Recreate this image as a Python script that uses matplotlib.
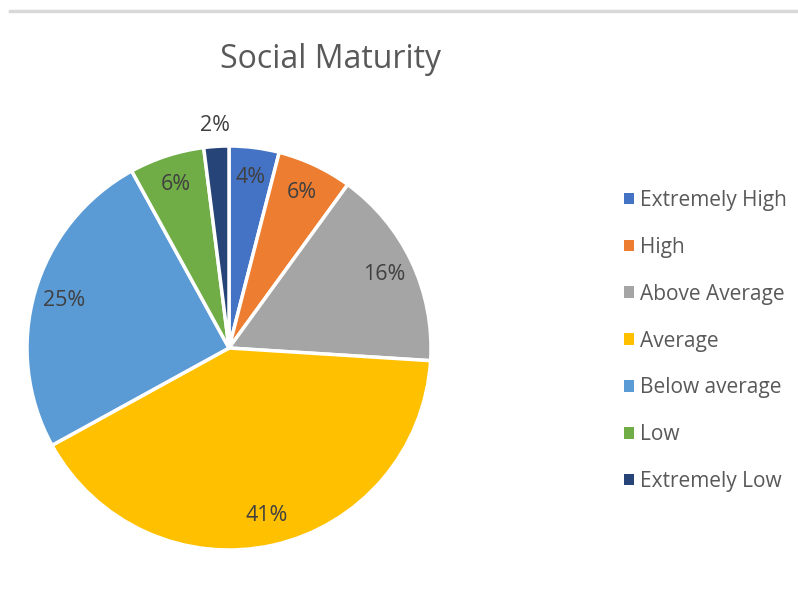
import matplotlib.pyplot as plt
from matplotlib.lines import Line2D

plt.rcParams['font.family'] = ['Open Sans', 'DejaVu Sans']

categories = ['Extremely High', 'High', 'Above Average', 'Average',
              'Below average', 'Low', 'Extremely Low']
values = [4, 6, 16, 41, 25, 6, 2]
colors = ['#4472C4', '#ED7D31', '#A5A5A5', '#FFC000', '#5B9BD5', '#70AD47', '#264478']

fig = plt.figure(figsize=(7.98, 6.04), dpi=100)

# thin frame line along the top
fig.add_artist(Line2D([10 / 798, 1.0], [1 - 11 / 604, 1 - 11 / 604],
                      color='#d9d9d9', lw=2.5))

ax = fig.add_axes([27 / 798, 54 / 604, 404 / 798, 404 / 604])
wedges, texts, autotexts = ax.pie(
    values, colors=colors, startangle=90, counterclock=False,
    autopct='%d%%', pctdistance=0.85,
    wedgeprops=dict(edgecolor='white', linewidth=2.5),
    textprops=dict(color='#404040', fontsize=15.5))
ax.set_xlim(-1, 1)
ax.set_ylim(-1, 1)
ax.set_aspect('equal')

# the tiny slice gets its label outside the pie
x, y = autotexts[-1].get_position()
autotexts[-1].set_position((x * 1.30, y * 1.30))

fig.text(330 / 798, 1 - 60 / 604, 'Social Maturity', ha='center', va='center',
         fontsize=23, color='#595959')

leg = fig.legend(wedges, categories, loc='center left',
                 bbox_to_anchor=(624 / 798, 1 - 341 / 604),
                 frameon=False, fontsize=15, handlelength=0.48, handleheight=0.48,
                 handletextpad=0.3, labelspacing=1.24, borderpad=0, borderaxespad=0)
for t in leg.get_texts():
    t.set_color('#595959')
for h in leg.legend_handles:
    h.set_linewidth(0)

fig.savefig('out.png', dpi=100)
